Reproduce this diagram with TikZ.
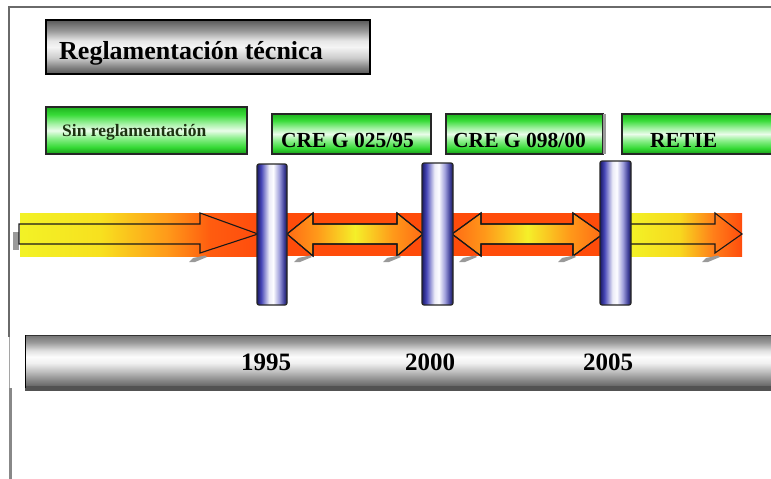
\documentclass[tikz,border=0pt]{standalone}
\usepackage{fontspec}
\setmainfont{Liberation Serif}
% stops mapped into the 25bp..75bp window that TikZ fits to the path
\pgfdeclareverticalshading{titleshade}{100bp}{rgb(0bp)=(0.33,0.33,0.33); rgb(25bp)=(0.33,0.33,0.33); rgb(31bp)=(0.5,0.5,0.5); rgb(40bp)=(0.8,0.8,0.8); rgb(50bp)=(0.96,0.96,0.96); rgb(56bp)=(0.9,0.9,0.9); rgb(65bp)=(0.6,0.6,0.6); rgb(75bp)=(0.35,0.35,0.35); rgb(100bp)=(0.35,0.35,0.35)}
\pgfdeclareverticalshading{greenshade}{100bp}{rgb(0bp)=(0.1,0.6,0.1); rgb(25bp)=(0.1,0.6,0.1); rgb(32bp)=(0.2,0.85,0.2); rgb(42bp)=(0.55,0.94,0.55); rgb(50bp)=(0.92,0.99,0.92); rgb(57bp)=(0.65,0.95,0.65); rgb(67bp)=(0.22,0.86,0.22); rgb(75bp)=(0.12,0.7,0.12); rgb(100bp)=(0.12,0.7,0.12)}
\pgfdeclarehorizontalshading{barshade}{100bp}{rgb(0bp)=(0.1,0.1,0.4); rgb(25bp)=(0.1,0.1,0.4); rgb(32bp)=(0.28,0.28,0.72); rgb(45bp)=(0.92,0.92,0.97); rgb(52bp)=(0.99,0.99,1); rgb(62bp)=(0.62,0.62,0.86); rgb(70bp)=(0.25,0.25,0.6); rgb(75bp)=(0.1,0.1,0.3); rgb(100bp)=(0.1,0.1,0.3)}
\pgfdeclareverticalshading{timeshade}{100bp}{rgb(0bp)=(0.38,0.38,0.38); rgb(25bp)=(0.38,0.38,0.38); rgb(31bp)=(0.52,0.52,0.52); rgb(40bp)=(0.75,0.75,0.75); rgb(48bp)=(0.94,0.94,0.94); rgb(54bp)=(0.99,0.99,0.99); rgb(60bp)=(0.88,0.88,0.88); rgb(68bp)=(0.6,0.6,0.6); rgb(75bp)=(0.45,0.45,0.45); rgb(100bp)=(0.45,0.45,0.45)}
\pgfdeclarehorizontalshading{bandleft}{100bp}{rgb(0bp)=(0.95,0.95,0.15); rgb(25bp)=(0.95,0.95,0.15); rgb(42bp)=(0.97,0.88,0.12); rgb(56bp)=(1,0.6,0.1); rgb(65bp)=(1,0.36,0.06); rgb(75bp)=(1,0.3,0.05); rgb(100bp)=(1,0.3,0.05)}
\pgfdeclarehorizontalshading{bandright}{100bp}{rgb(0bp)=(0.95,0.95,0.15); rgb(25bp)=(0.95,0.95,0.15); rgb(47bp)=(0.97,0.85,0.12); rgb(62bp)=(1,0.5,0.1); rgb(75bp)=(1,0.3,0.05); rgb(100bp)=(1,0.3,0.05)}
\pgfdeclarehorizontalshading{dblarrow}{100bp}{rgb(0bp)=(1,0.42,0.08); rgb(25bp)=(1,0.42,0.08); rgb(36bp)=(1,0.6,0.1); rgb(50bp)=(0.96,0.94,0.16); rgb(64bp)=(1,0.6,0.1); rgb(75bp)=(1,0.42,0.08); rgb(100bp)=(1,0.42,0.08)}
\definecolor{bandred}{rgb}{1,0.3,0.04}
\definecolor{framegray}{HTML}{6A6A6A}
\definecolor{shadowgray}{HTML}{9A9A9A}
\definecolor{sintext}{HTML}{1E3312}
\tikzset{
  titlebox/.style={shading=titleshade, draw=black, line width=1.2pt},
  greenbox/.style={shading=greenshade, draw=black!85, line width=1.2pt},
  cylbar/.style={shading=barshade, draw=black!85, line width=1.2pt, rounded corners=2pt},
  arrowline/.style={draw=black!90, line width=1.1pt, line join=miter},
  lbl/.style={anchor=base west, inner sep=0pt, text=black},
  boxlbl/.style={lbl, font=\fontsize{21.5}{24}\selectfont\bfseries},
  yearlbl/.style={lbl, font=\fontsize{25}{28}\selectfont\bfseries},
}
\newcommand\shmark[1]{\fill[shadowgray] ({#1-16},262) -- ({#1-12},258) -- ({#1},255.5) -- ({#1+2},257) -- ({#1-10},262) -- cycle;}
\begin{document}
\begin{tikzpicture}[x=1pt,y=-1pt]
\useasboundingbox (0,0) rectangle (771,479);
\clip (0,0) rectangle (771,479);
\fill[white] (0,0) rectangle (771,479);
% frame
\draw[framegray, line width=2.5pt] (771,7) -- (9,7) -- (9,337);
\draw[framegray!60, line width=1pt] (9,337) -- (9,388);
\draw[framegray!80, line width=3.5pt] (10.5,388) -- (10.5,479);
% title
\path[titlebox] (46,20) rectangle (370,74);
\node[lbl, font=\fontsize{26}{30}\selectfont\bfseries] (title) at (59,59) {Reglamentación técnica};
% green boxes
\path[greenbox] (46,107) rectangle (247,154);
\node[lbl, text=sintext, font=\fontsize{17.5}{20}\selectfont\bfseries] (sin) at (62,136) {Sin reglamentación};
\path[greenbox] (272,114) rectangle (431,154);
\node[boxlbl] (creg1) at (281,147) {CRE G 025/95};
\path[greenbox] (446,114) rectangle (603,154);
\fill[shadowgray] (603,114) rectangle (606,154);
\node[boxlbl] (creg2) at (453,147) {CRE G 098/00};
\path[greenbox] (622,114) rectangle (780,154);
\node[boxlbl] (retie) at (650,147) {RETIE};
% band segments
\path[shading=bandleft] (20,213) rectangle (258,256);
\fill[bandred] (258,213) rectangle (630,256);
\path[shading=bandright] (630,213) rectangle (742,256);
% tail shadow
\fill[shadowgray] (13,232) rectangle (19,250);
% arrow 1
\path[arrowline] (19,224) -- (200,224) -- (200,213) -- (258,234) -- (200,253) -- (200,244) -- (19,244) -- cycle;
% arrow 2 (double)
\path[arrowline, shading=dblarrow] (287,234) -- (313,213) -- (313,224) -- (397,224) -- (397,213) -- (423,234) -- (397,256) -- (397,244) -- (313,244) -- (313,256) -- cycle;
\path[arrowline] (287,234) -- (313,213) -- (313,224) -- (397,224) -- (397,213) -- (423,234) -- (397,256) -- (397,244) -- (313,244) -- (313,256) -- cycle;
% arrow 3 (double)
\path[arrowline, shading=dblarrow] (452,234) -- (481,213) -- (481,224) -- (573,224) -- (573,213) -- (603,234) -- (573,256) -- (573,244) -- (481,244) -- (481,256) -- cycle;
\path[arrowline] (452,234) -- (481,213) -- (481,224) -- (573,224) -- (573,213) -- (603,234) -- (573,256) -- (573,244) -- (481,244) -- (481,256) -- cycle;
% arrow 4
\path[arrowline] (630,224) -- (715,224) -- (715,213) -- (742,234) -- (715,253) -- (715,244) -- (630,244);
% shadow marks
\shmark{205}
\shmark{310}
\shmark{399}
\shmark{475}
\shmark{574}
\shmark{718}
% bars
\path[cylbar] (257,164) rectangle (287,305);
\path[cylbar] (422,163) rectangle (453,305);
\path[cylbar] (600,161) rectangle (631,305);
% timeline
\path[shading=timeshade] (25,335) rectangle (780,387);
\fill[black!68] (25,386) rectangle (780,391);
\draw[black!80, line width=0.8pt] (25,335.4) -- (780,335.4);
\draw[black, line width=1.5pt] (25.5,335) -- (25.5,388);
\node[yearlbl] (y1995) at (241,370) {1995};
\node[yearlbl] (y2000) at (405,370) {2000};
\node[yearlbl] (y2005) at (583,370) {2005};
\end{tikzpicture}
\end{document}
